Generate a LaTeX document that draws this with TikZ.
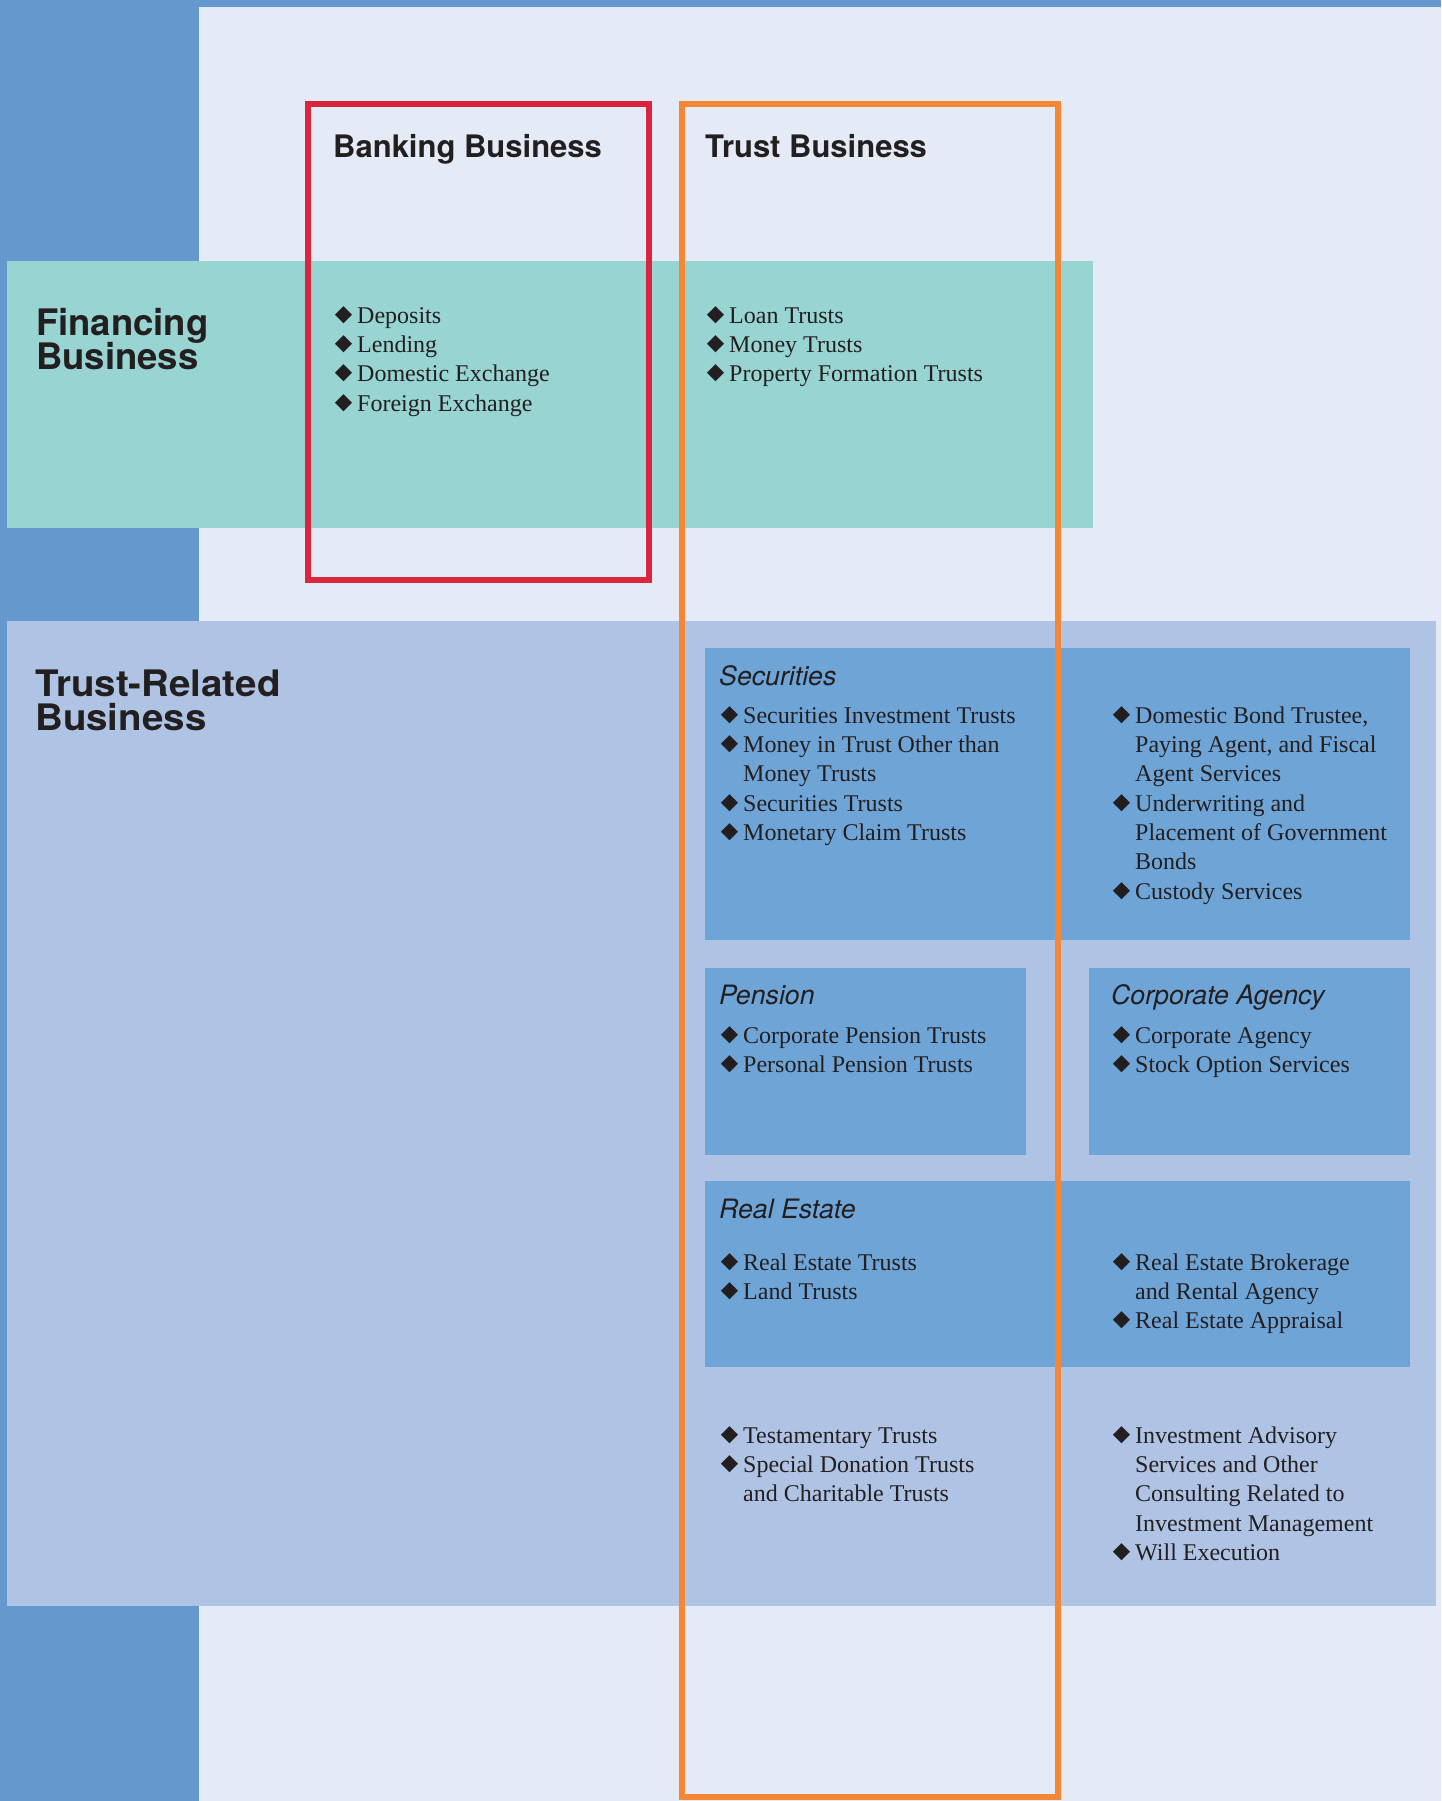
\documentclass[tikz,border=0pt]{standalone}
\usepackage{fontspec}
\setmainfont{Liberation Serif}
\setsansfont{TeX Gyre Heros}
\usepackage{pifont}
\usepackage{xcolor}
\usetikzlibrary{positioning}

\definecolor{stripblue}{HTML}{6599CE}
\definecolor{paleblue}{HTML}{E4EBF6}
\definecolor{finteal}{HTML}{97D4D2}
\definecolor{relblue}{HTML}{AFC4E4}
\definecolor{boxblue}{HTML}{6FA4D7}
\definecolor{bankred}{HTML}{D9263C}
\definecolor{trustorange}{HTML}{F58634}
\definecolor{inkgrey}{HTML}{231F20}

\newcommand{\dia}{\makebox[23pt][l]{\ding{117}}}
\newcommand{\cont}{\hspace*{23pt}}
\newcommand{\tightlines}{\lineskiplimit=-20pt\relax}

\begin{document}
\begin{tikzpicture}[
    x=1pt, y=-1pt,
    panel/.style={rectangle, inner sep=0pt, outer sep=0pt, anchor=north west},
    bizframe/.style={rectangle, inner sep=0pt, outer sep=0pt, anchor=north west, line width=5.5pt},
    head/.style={anchor=base west, inner sep=0pt, text=inkgrey, font=\sffamily\bfseries\fontsize{31}{36}\selectfont},
    rowhead/.style={anchor=base west, inner sep=0pt, align=left, text=inkgrey, font={\sffamily\bfseries\fontsize{36.5}{33.5}\selectfont\tightlines}},
    subhead/.style={anchor=base west, inner sep=0pt, text=inkgrey, font=\sffamily\itshape\fontsize{26.7}{30}\selectfont},
    items/.style={anchor=north west, inner sep=0pt, align=left, text=inkgrey, font=\fontsize{24}{29.3}\selectfont}
]
\useasboundingbox (0,0) rectangle (1441,1801);

% backgrounds
\node[panel, fill=stripblue, minimum width=1441pt, minimum height=1801pt] (canvas) at (0,0) {};
\node[panel, fill=paleblue, minimum width=1242pt, minimum height=1794pt] (page) at (199,7) {};
\node[panel, fill=finteal, minimum width=1086pt, minimum height=267pt] (finband) at (7,261) {};
\node[panel, fill=relblue, minimum width=1429pt, minimum height=985pt] (relband) at (7,621) {};

% trust-related boxes
\node[panel, fill=boxblue, minimum width=705pt, minimum height=292pt] (secbox) at (705,648) {};
\node[panel, fill=boxblue, minimum width=321pt, minimum height=187pt] (penbox) at (705,968) {};
\node[panel, fill=boxblue, minimum width=321pt, minimum height=187pt] (agencybox) at (1089,968) {};
\node[panel, fill=boxblue, minimum width=705pt, minimum height=186pt] (estatebox) at (705,1181) {};

% frames
\node[bizframe, draw=bankred, minimum width=341pt, minimum height=476pt] (bankframe) at (308,104) {};
\node[bizframe, draw=trustorange, minimum width=376pt, minimum height=1693pt] (trustframe) at (682,104) {};

% headings
\node[head] (bankhead) at ([shift={(25,53)}]bankframe.north west) {Banking Business};
\node[head] (trusthead) at ([shift={(23,53)}]trustframe.north west) {Trust Business};
\node[rowhead] (finhead) at ([shift={(29,108)}]finband.north west) {Financing\\Business};
\node[rowhead, xscale=1.055, transform shape] (relhead) at ([shift={(28,109)}]relband.north west) {Trust-Related\\Business};

% financing business
\node[items] (bankitems) at ([shift={(26,202)}]bankframe.north west)
  {\dia Deposits\\\dia Lending\\\dia Domestic Exchange\\\dia Foreign Exchange};
\node[items] (loanitems) at ([shift={(24,202)}]trustframe.north west)
  {\dia Loan Trusts\\\dia Money Trusts\\\dia Property Formation Trusts};

% securities
\node[subhead] (sechead) at ([shift={(14,37)}]secbox.north west) {Securities};
\node[items] (secitems) at ([shift={(15,58)}]secbox.north west)
  {\dia Securities Investment Trusts\\\dia Money in Trust Other than\\\cont Money Trusts\\\dia Securities Trusts\\\dia Monetary Claim Trusts};
\node[items] (bonditems) at ([shift={(407,58)}]secbox.north west)
  {\dia Domestic Bond Trustee,\\\cont Paying Agent, and Fiscal\\\cont Agent Services\\\dia Underwriting and\\\cont Placement of Government\\\cont Bonds\\\dia Custody Services};

% pension and corporate agency
\node[subhead] (penhead) at ([shift={(14,36)}]penbox.north west) {Pension};
\node[items] (penitems) at ([shift={(15,58)}]penbox.north west)
  {\dia Corporate Pension Trusts\\\dia Personal Pension Trusts};
\node[subhead] (agencyhead) at ([shift={(22,36)}]agencybox.north west) {Corporate Agency};
\node[items] (agencyitems) at ([shift={(23,58)}]agencybox.north west)
  {\dia Corporate Agency\\\dia Stock Option Services};

% real estate
\node[subhead] (estatehead) at ([shift={(14,37)}]estatebox.north west) {Real Estate};
\node[items] (estateitems) at ([shift={(15,72)}]estatebox.north west)
  {\dia Real Estate Trusts\\\dia Land Trusts};
\node[items] (brokeritems) at ([shift={(407,72)}]estatebox.north west)
  {\dia Real Estate Brokerage\\\cont and Rental Agency\\\dia Real Estate Appraisal};

% other trust-related
\node[items] (willitems) at ([shift={(15,59)}]estatebox.south west)
  {\dia Testamentary Trusts\\\dia Special Donation Trusts\\\cont and Charitable Trusts};
\node[items] (adviceitems) at ([shift={(407,59)}]estatebox.south west)
  {\dia Investment Advisory\\\cont Services and Other\\\cont Consulting Related to\\\cont Investment Management\\\dia Will Execution};

\end{tikzpicture}
\end{document}
